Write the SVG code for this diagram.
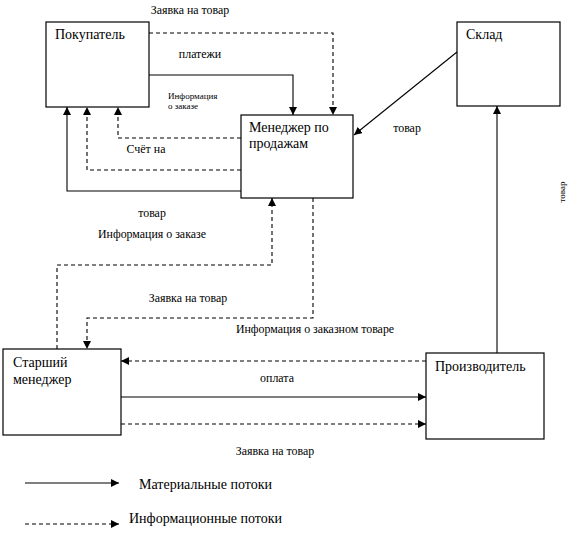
<svg xmlns="http://www.w3.org/2000/svg" width="577" height="534" viewBox="0 0 577 534">
<style>
  .box { fill: #fff; stroke: #000; stroke-width: 1.2; }
  .ln { fill: none; stroke: #000; stroke-width: 1.1; }
  .ds { fill: none; stroke: #000; stroke-width: 1.1; stroke-dasharray: 4 3; }
  .nt { font-family: "Liberation Serif", "Times New Roman", serif; font-size: 14px; fill: #000; }
  .lb { font-family: "Liberation Serif", "Times New Roman", serif; font-size: 11.9px; fill: #000; }
  .sm { font-family: "Liberation Serif", "Times New Roman", serif; font-size: 9px; fill: #000; }
  .lg { font-family: "Liberation Serif", "Times New Roman", serif; font-size: 14px; fill: #000; }
</style>
<defs>
  <marker id="ah" markerUnits="userSpaceOnUse" markerWidth="9" markerHeight="8" refX="8" refY="4" orient="auto">
    <path d="M0,0 L8,4 L0,8 Z" fill="#000"/>
  </marker>
</defs>
<rect width="577" height="534" fill="#fff"/>

<g id="node-pokupatel">
  <rect class="box" x="46" y="22" width="103" height="85"/>
  <text class="nt" x="55" y="39">Покупатель</text>
</g>
<g id="node-menedzher">
  <rect class="box" x="241" y="115" width="112" height="83"/>
  <text class="nt" x="249" y="132">Менеджер по</text>
  <text class="nt" x="249" y="148">продажам</text>
</g>
<g id="node-sklad">
  <rect class="box" x="457" y="22" width="103" height="84"/>
  <text class="nt" x="466" y="39">Склад</text>
</g>
<g id="node-starshiy">
  <rect class="box" x="3" y="349" width="118" height="86"/>
  <text class="nt" x="13" y="367">Старший</text>
  <text class="nt" x="13" y="384">менеджер</text>
</g>
<g id="node-proizvoditel">
  <rect class="box" x="426" y="353" width="118" height="86"/>
  <text class="nt" x="435" y="371">Производитель</text>
</g>

<g id="connectors">
  <polyline class="ds" points="149,33 333,33 333,115" marker-end="url(#ah)"/>
  <polyline class="ln" points="149,75 293,75 293,115" marker-end="url(#ah)"/>
  <polyline class="ds" points="241,138 118,138 118,107" marker-end="url(#ah)"/>
  <polyline class="ds" points="241,170 87,170 87,107" marker-end="url(#ah)"/>
  <polyline class="ln" points="241,191 67,191 67,107" marker-end="url(#ah)"/>
  <line class="ln" x1="457" y1="52" x2="354" y2="135" marker-end="url(#ah)"/>
  <polyline class="ds" points="57,349 57,265 272,265 272,198" marker-end="url(#ah)"/>
  <polyline class="ds" points="313,198 313,318 87,318 87,349" marker-end="url(#ah)"/>
  <line class="ds" x1="426" y1="361" x2="121" y2="361" marker-end="url(#ah)"/>
  <line class="ln" x1="121" y1="397" x2="426" y2="397" marker-end="url(#ah)"/>
  <line class="ds" x1="121" y1="424" x2="426" y2="424" marker-end="url(#ah)"/>
  <line class="ln" x1="497" y1="353" x2="497" y2="106" marker-end="url(#ah)"/>
  <line class="ln" x1="25" y1="483" x2="119" y2="483" marker-end="url(#ah)"/>
  <line class="ds" x1="25" y1="524" x2="119" y2="524" marker-end="url(#ah)"/>
</g>

<g id="labels">
  <text class="lb" x="190" y="14" text-anchor="middle">Заявка на товар</text>
  <text class="lb" x="200" y="58" text-anchor="middle">платежи</text>
  <text class="sm" x="168" y="99">Информация</text>
  <text class="sm" x="168" y="109">о заказе</text>
  <text class="lb" x="146" y="153" text-anchor="middle">Счёт на</text>
  <text class="lb" x="407" y="132" text-anchor="middle">товар</text>
  <text class="sm" x="0" y="0" text-anchor="middle" transform="translate(565,192) rotate(-90)">товар</text>
  <text class="lb" x="152" y="217" text-anchor="middle">товар</text>
  <text class="lb" x="152" y="238" text-anchor="middle">Информация о заказе</text>
  <text class="lb" x="188" y="302" text-anchor="middle">Заявка на товар</text>
  <text class="lb" x="315" y="333" text-anchor="middle">Информация о заказном товаре</text>
  <text class="lb" x="277" y="382" text-anchor="middle">оплата</text>
  <text class="lb" x="275" y="455" text-anchor="middle">Заявка на товар</text>
  <text class="lg" x="139" y="489">Материальные потоки</text>
  <text class="lg" x="129" y="523">Информационные потоки</text>
</g>
</svg>
